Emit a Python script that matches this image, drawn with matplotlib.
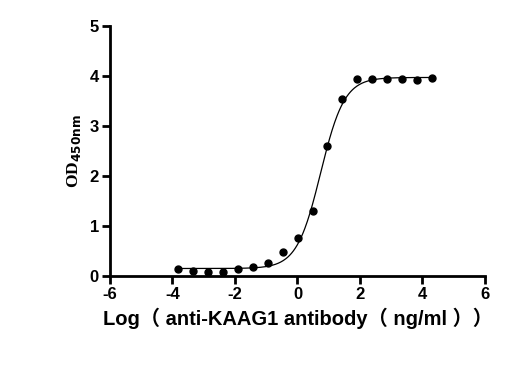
import numpy as np
import matplotlib
matplotlib.use("Agg")
import matplotlib.pyplot as plt

plt.rcParams["axes.unicode_minus"] = False

# log10 concentration (ng/ml), 3-fold dilution from 20000
log_conc = [4.30, 3.82, 3.35, 2.87, 2.39, 1.92, 1.44, 0.96, 0.49,
            0.01, -0.47, -0.94, -1.42, -1.90, -2.37, -2.85, -3.33, -3.81]
od450 = [3.95, 3.91, 3.93, 3.93, 3.93, 3.93, 3.53, 2.60, 1.30,
         0.75, 0.48, 0.25, 0.18, 0.13, 0.07, 0.07, 0.10, 0.13]

# 4PL fit parameters (bottom, top, logEC50, hill)
bottom, top, logec50, hill = 0.15, 3.97, 0.74, 1.14

fig = plt.figure(figsize=(5.25, 3.8), dpi=100)
ax = fig.add_axes([0.2095, 0.2737, 0.7143, 0.658])

xs = np.linspace(min(log_conc), max(log_conc), 400)
ys = bottom + (top - bottom) / (1 + 10 ** ((logec50 - xs) * hill))
ax.plot(xs, ys, color="black", linewidth=0.9)
ax.plot(log_conc, od450, "o", color="black", markersize=5)

ax.set_xlim(-6, 6)
ax.set_ylim(0, 5)
ax.set_xticks(range(-6, 7, 2))
ax.set_yticks(range(0, 6))
for s in ["top", "right"]:
    ax.spines[s].set_visible(False)
for s in ["left", "bottom"]:
    ax.spines[s].set_linewidth(2)
ax.tick_params(width=2, length=6, direction="out", labelsize=12, pad=2)
for lab in ax.get_xticklabels() + ax.get_yticklabels():
    lab.set_family("Liberation Sans")
    lab.set_fontweight("bold")

ax.set_ylabel(r"OD$_{\mathbf{450nm}}$", fontsize=12.5, fontweight="bold",
              family="Liberation Serif", labelpad=5)
ax.set_xlabel("Log（ anti-KAAG1 antibody（ ng/ml ））", fontsize=14.5,
              fontweight="bold", family=["Liberation Sans", "Noto Sans CJK SC"],
              labelpad=4)

fig.savefig("out.png", dpi=100)
